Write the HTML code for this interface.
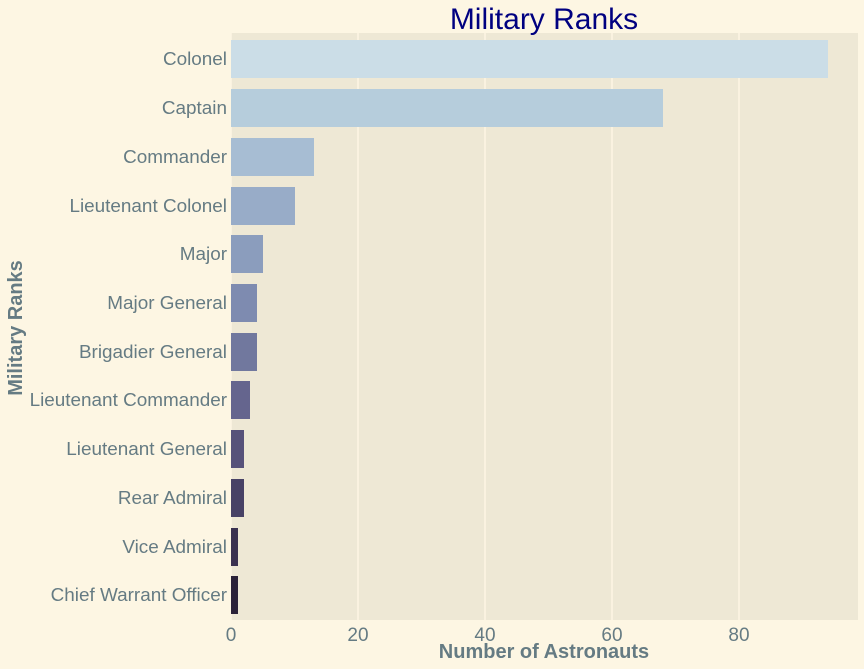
<!DOCTYPE html>
<html><head><style>
body{margin:0;background:#fdf6e3;}
svg{display:block;font-family:"Liberation Sans",sans-serif;}
</style></head><body>
<svg width="864" height="669" xmlns="http://www.w3.org/2000/svg">
<rect width="864" height="669" fill="#fdf6e3"/>
<rect x="231" y="33" width="627" height="587" fill="#eee8d5"/>
<g stroke="#fdf6e3" stroke-width="1.5">
<line x1="231" y1="33" x2="231" y2="620"/>
<line x1="358" y1="33" x2="358" y2="620"/>
<line x1="485" y1="33" x2="485" y2="620"/>
<line x1="612" y1="33" x2="612" y2="620"/>
<line x1="739" y1="33" x2="739" y2="620"/>
</g>
<g>
<rect x="231" y="40" width="597" height="38" fill="#cbdde7"/>
<rect x="231" y="89" width="432" height="38" fill="#b6cddc"/>
<rect x="231" y="138" width="83" height="38" fill="#a7bdd3"/>
<rect x="231" y="187" width="64" height="38" fill="#98acc8"/>
<rect x="231" y="235" width="32" height="38" fill="#8b9dbd"/>
<rect x="231" y="284" width="26" height="38" fill="#7e8bb0"/>
<rect x="231" y="333" width="26" height="38" fill="#71789e"/>
<rect x="231" y="381" width="19" height="38" fill="#65658e"/>
<rect x="231" y="430" width="13" height="38" fill="#57527a"/>
<rect x="231" y="479" width="13" height="38" fill="#484266"/>
<rect x="231" y="528" width="7" height="38" fill="#3a3150"/>
<rect x="231" y="576" width="7" height="38" fill="#2a2138"/>
</g>
<g fill="#657b83" font-size="18.9" text-anchor="end">
<text x="227" y="65">Colonel</text>
<text x="227" y="114">Captain</text>
<text x="227" y="163">Commander</text>
<text x="227" y="212">Lieutenant Colonel</text>
<text x="227" y="260">Major</text>
<text x="227" y="309">Major General</text>
<text x="227" y="358">Brigadier General</text>
<text x="227" y="406">Lieutenant Commander</text>
<text x="227" y="455">Lieutenant General</text>
<text x="227" y="504">Rear Admiral</text>
<text x="227" y="553">Vice Admiral</text>
<text x="227" y="601">Chief Warrant Officer</text>
</g>
<g fill="#657b83" font-size="19" text-anchor="middle">
<text x="231" y="641">0</text>
<text x="358" y="641">20</text>
<text x="485" y="641">40</text>
<text x="612" y="641">60</text>
<text x="739" y="641">80</text>
</g>
<text x="544" y="658" fill="#657b83" font-size="20" font-weight="bold" text-anchor="middle">Number of Astronauts</text>
<text transform="translate(22,328) rotate(-90)" fill="#657b83" font-size="20" font-weight="bold" text-anchor="middle">Military Ranks</text>
<text x="544" y="29" fill="#000080" font-size="30" text-anchor="middle">Military Ranks</text>
</svg>
</body></html>
